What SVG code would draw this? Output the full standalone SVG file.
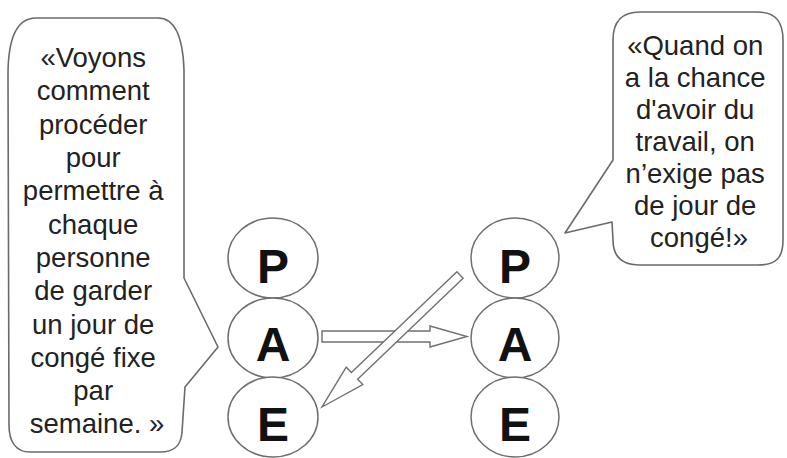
<svg xmlns="http://www.w3.org/2000/svg" width="787" height="458" viewBox="0 0 787 458">
  <style>
    .bubble { fill: #ffffff; stroke: #6a6a6a; stroke-width: 1.6; stroke-linejoin: round; }
    .quote { font-family: "Liberation Sans", Arial, sans-serif; font-size: 27.5px; fill: #222222; text-anchor: middle; }
    .ring { fill: #ffffff; stroke: #6e6e6e; stroke-width: 1.5; }
    .letter { font-family: "Liberation Sans", Arial, sans-serif; font-size: 48px; font-weight: bold; fill: #111111; text-anchor: middle; }
    .arrow { fill: #ffffff; stroke: #707070; stroke-width: 1.4; stroke-linejoin: miter; }
  </style>
  <rect width="787" height="458" fill="#ffffff"/>

  <!-- left speech bubble -->
  <g id="bubble-left">
    <path class="bubble" d="M 36,18 L 158,18 C 176,18 183,40 184,70 L 184,278 L 218,347 L 185,387 L 182,432 C 181,446 174,452 160,452 L 30,452 C 16,452 9,442 9,425 L 8,75 C 8,40 16,18 36,18 Z"/>
    <text class="quote" x="97">
      <tspan x="97" y="67">«Voyons</tspan>
      <tspan x="97" y="100">comment</tspan>
      <tspan x="97" y="134">procéder</tspan>
      <tspan x="97" y="167">pour</tspan>
      <tspan x="97" y="200">permettre à</tspan>
      <tspan x="97" y="234">chaque</tspan>
      <tspan x="97" y="267">personne</tspan>
      <tspan x="97" y="300">de garder</tspan>
      <tspan x="97" y="334">un jour de</tspan>
      <tspan x="97" y="367">congé fixe</tspan>
      <tspan x="97" y="400">par</tspan>
      <tspan x="97" y="433">semaine. »</tspan>
    </text>
  </g>

  <!-- right speech bubble -->
  <g id="bubble-right">
    <path class="bubble" d="M 640,12 L 758,12 C 776,12 783,22 783,40 L 783,240 C 783,258 776,265 758,265 L 640,265 C 622,265 613,256 613,240 L 612,222 L 565,233 L 613,160 L 613,40 C 613,22 622,12 640,12 Z"/>
    <text class="quote">
      <tspan x="699" y="55">«Quand on</tspan>
      <tspan x="699" y="87">a la chance</tspan>
      <tspan x="699" y="119">d'avoir du</tspan>
      <tspan x="699" y="151">travail, on</tspan>
      <tspan x="699" y="183">n’exige pas</tspan>
      <tspan x="699" y="215">de jour de</tspan>
      <tspan x="699" y="247">congé!»</tspan>
    </text>
  </g>

  <!-- left column: P, A, E -->
  <g id="left-P">
    <ellipse class="ring" cx="273" cy="258" rx="45" ry="40"/>
    <text class="letter" x="273" y="283">P</text>
  </g>
  <g id="left-A">
    <ellipse class="ring" cx="273" cy="338" rx="45" ry="40"/>
    <text class="letter" x="273" y="361">A</text>
  </g>
  <g id="left-E">
    <ellipse class="ring" cx="273" cy="417" rx="45" ry="40"/>
    <text class="letter" x="273" y="441">E</text>
  </g>

  <!-- right column: P, A, E -->
  <g id="right-P">
    <ellipse class="ring" cx="515" cy="258" rx="44" ry="40"/>
    <text class="letter" x="515" y="283">P</text>
  </g>
  <g id="right-A">
    <ellipse class="ring" cx="515" cy="338" rx="44" ry="40"/>
    <text class="letter" x="515" y="361">A</text>
  </g>
  <g id="right-E">
    <ellipse class="ring" cx="515" cy="417" rx="44" ry="40"/>
    <text class="letter" x="515" y="441">E</text>
  </g>

  <!-- connectors: hollow block arrows -->
  <g id="connectors">
    <polygon class="arrow" points="322,331 430,331 430,326 467,336.5 430,347 430,342 322,342"/>
    <polygon class="arrow" points="463.1,278.3 357.6,379.2 362.8,384.6 322,407 346.2,367.2 351.4,372.6 456.9,271.7"/>
  </g>
</svg>
